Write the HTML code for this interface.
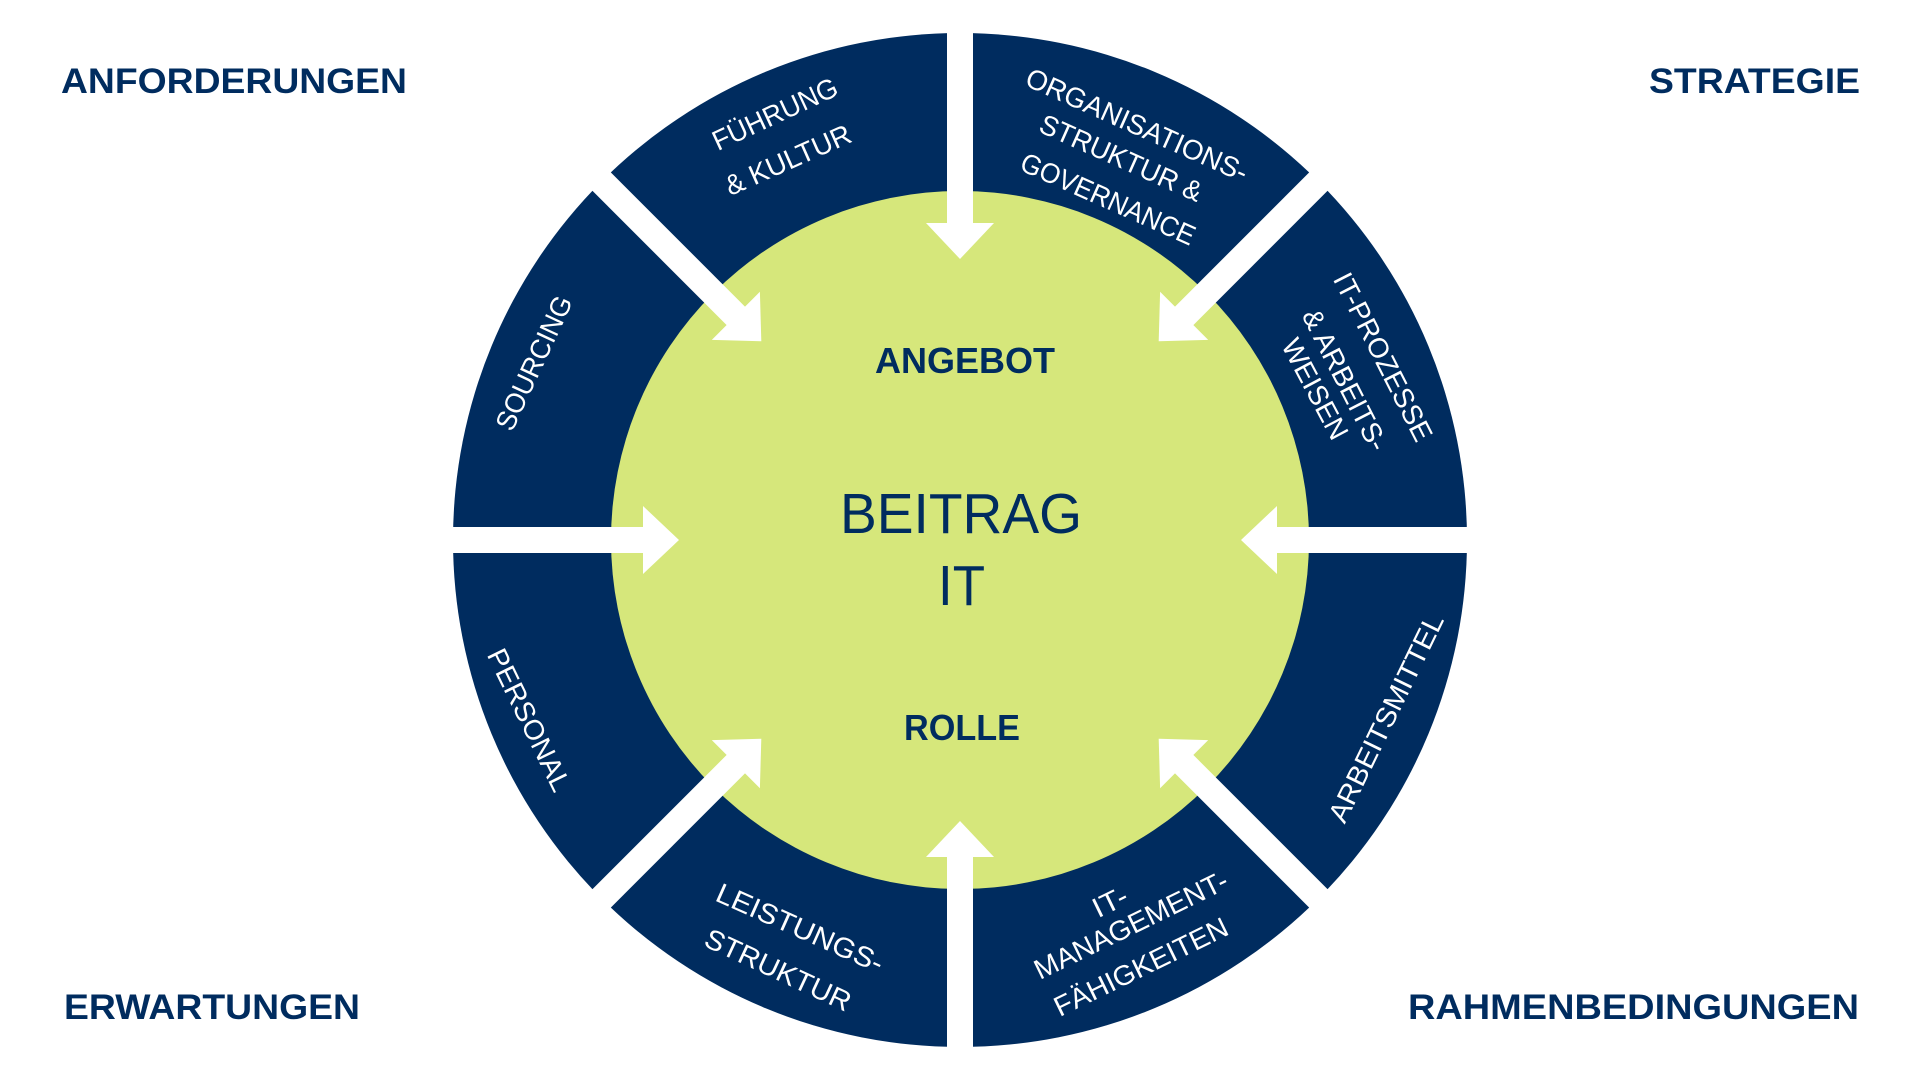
<!DOCTYPE html>
<html><head><meta charset="utf-8"><style>html,body{margin:0;padding:0;background:#fff;}svg{display:block}</style></head>
<body>
<svg width="1920" height="1080" viewBox="0 0 1920 1080" xmlns="http://www.w3.org/2000/svg" font-family="Liberation Sans, sans-serif">
<rect width="1920" height="1080" fill="#fff"/>
<circle cx="960" cy="540" r="507" fill="#002c5f"/>
<circle cx="960" cy="540" r="349" fill="#d6e77b"/>
<g fill="#fff">
<g id="a"><rect x="947" y="10" width="26" height="215"/><polygon points="926,223 994,223 960,259"/></g>
<use href="#a" transform="rotate(45 960 540)"/>
<use href="#a" transform="rotate(90 960 540)"/>
<use href="#a" transform="rotate(135 960 540)"/>
<use href="#a" transform="rotate(180 960 540)"/>
<use href="#a" transform="rotate(225 960 540)"/>
<use href="#a" transform="rotate(270 960 540)"/>
<use href="#a" transform="rotate(315 960 540)"/>
</g>
<g fill="#002c5f" font-weight="bold" font-size="35">
<text x="61" y="93" textLength="346" lengthAdjust="spacingAndGlyphs">ANFORDERUNGEN</text>
<text x="1649" y="93" textLength="211" lengthAdjust="spacingAndGlyphs">STRATEGIE</text>
<text x="64" y="1019" textLength="296" lengthAdjust="spacingAndGlyphs">ERWARTUNGEN</text>
<text x="1408" y="1019" textLength="451" lengthAdjust="spacingAndGlyphs">RAHMENBEDINGUNGEN</text>
<text x="875" y="373" font-size="36" textLength="180" lengthAdjust="spacingAndGlyphs">ANGEBOT</text>
<text x="904" y="740" font-size="36" textLength="116" lengthAdjust="spacingAndGlyphs">ROLLE</text>
</g>
<g fill="#002c5f" font-size="57">
<text x="840" y="533" textLength="242" lengthAdjust="spacingAndGlyphs">BEITRAG</text>
<text x="938" y="605" textLength="47" lengthAdjust="spacingAndGlyphs">IT</text>
</g>
<g fill="#fff" font-size="28" text-anchor="middle" dominant-baseline="central">
<text transform="translate(775,114) rotate(-25)" textLength="135" lengthAdjust="spacingAndGlyphs">FÜHRUNG</text>
<text transform="translate(788,160) rotate(-24)" textLength="135" lengthAdjust="spacingAndGlyphs">&amp; KULTUR</text>
<text transform="translate(534,363) rotate(-65)" textLength="145" lengthAdjust="spacingAndGlyphs">SOURCING</text>
<text transform="translate(1137,125) rotate(24)" textLength="240" lengthAdjust="spacingAndGlyphs">ORGANISATIONS-</text>
<text transform="translate(1121,158) rotate(24)" textLength="175" lengthAdjust="spacingAndGlyphs">STRUKTUR &amp;</text>
<text transform="translate(1108,199) rotate(24)" textLength="188" lengthAdjust="spacingAndGlyphs">GOVERNANCE</text>
<text transform="translate(1383,357) rotate(63)" textLength="185" lengthAdjust="spacingAndGlyphs">IT-PROZESSE</text>
<text transform="translate(1345,380) rotate(63)" textLength="155" lengthAdjust="spacingAndGlyphs">&amp; ARBEITS-</text>
<text transform="translate(1315,389) rotate(62)" textLength="110" lengthAdjust="spacingAndGlyphs">WEISEN</text>
<text transform="translate(1386,718) rotate(-64)" textLength="228" lengthAdjust="spacingAndGlyphs">ARBEITSMITTEL</text>
<text transform="translate(529,720) rotate(64)" textLength="155" lengthAdjust="spacingAndGlyphs">PERSONAL</text>
<text transform="translate(800,928) rotate(24)" textLength="180" lengthAdjust="spacingAndGlyphs">LEISTUNGS-</text>
<text transform="translate(778,970) rotate(25)" textLength="158" lengthAdjust="spacingAndGlyphs">STRUKTUR</text>
<text transform="translate(1110,902) rotate(-26)" textLength="36" lengthAdjust="spacingAndGlyphs">IT-</text>
<text transform="translate(1131,925) rotate(-26)" textLength="212" lengthAdjust="spacingAndGlyphs">MANAGEMENT-</text>
<text transform="translate(1141,967) rotate(-26)" textLength="190" lengthAdjust="spacingAndGlyphs">FÄHIGKEITEN</text>
</g>
</svg>
</body></html>
